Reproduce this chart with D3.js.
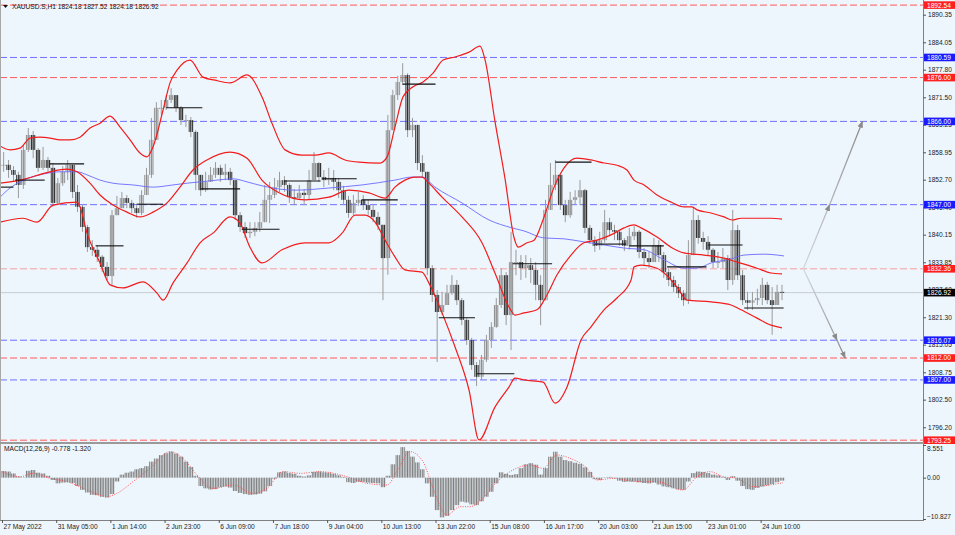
<!DOCTYPE html>
<html>
<head>
<meta charset="utf-8">
<script src="https://cdn.jsdelivr.net/npm/d3@7"></script>
<style>
  html, body { margin: 0; padding: 0; background: #eef6fd; }
  svg { display: block; font-family: "Liberation Sans", Arial, sans-serif; }
</style>
</head>
<body>
<div id="chart"></div>
<script>
const BAR_HOURS = 3;

const highs = [
  1859.0,1857.2,1855.8,1854.5,1860.6,1864.5,1863.8,1859.9,1860.2,1857.9,
  1856.5,1853.1,1855.8,1857.2,1855.4,1851.5,1846.9,1842.4,1838.9,1837.8,
  1835.5,1833.9,1845.8,1849.0,1849.9,1849.2,1848.1,1846.9,1850.3,1855.4,
  1866.8,1870.4,1870.9,1872.0,1873.6,1872.0,1869.5,1867.5,1867.0,1864.0,
  1853.8,1854.5,1855.6,1856.7,1856.1,1856.3,1855.4,1851.5,1845.3,1843.0,
  1843.0,1843.0,1845.3,1851.5,1852.2,1853.1,1854.5,1853.5,1851.9,1850.6,
  1851.5,1850.6,1854.9,1859.0,1856.7,1854.9,1855.4,1854.9,1853.1,1851.3,
  1849.0,1849.2,1849.9,1849.2,1848.1,1846.9,1845.3,1842.4,1867.5,1873.2,
  1876.4,1879.3,1877.0,1866.8,1865.2,1858.3,1854.5,1833.2,1827.5,1827.1,
  1828.7,1830.9,1829.8,1825.7,1821.1,1816.6,1811.1,1812.7,1817.3,1820.2,
  1825.7,1832.5,1831.6,1840.8,1836.7,1835.5,1835.5,1834.8,1833.9,1830.9,
  1848.1,1856.5,1857.2,1853.1,1848.1,1849.9,1850.3,1852.6,1850.6,1842.4,
  1839.8,1840.8,1845.8,1844.0,1842.4,1841.2,1839.4,1841.7,1842.1,1841.2,
  1837.1,1836.2,1839.4,1838.9,1836.2,1832.5,1830.7,1828.9,1827.5,1838.9,
  1846.5,1844.6,1840.8,1839.8,1837.1,1836.2,1837.1,1835.5,1845.8,1842.4,
  1832.1,1827.1,1827.1,1827.8,1830.3,1829.4,1828.2,1828.7,1828.7
];

const lows = [
  1854.5,1853.1,1852.4,1848.5,1850.6,1859.0,1857.6,1854.5,1854.9,1854.5,
  1846.5,1846.9,1851.3,1852.6,1848.5,1845.3,1840.8,1836.2,1835.3,1833.9,
  1831.6,1829.8,1828.7,1844.6,1846.9,1846.2,1845.1,1844.0,1844.6,1849.2,
  1853.1,1861.8,1867.5,1868.6,1870.2,1868.1,1865.2,1864.7,1862.4,1850.3,
  1849.0,1849.9,1852.2,1853.1,1852.2,1852.6,1851.5,1843.5,1840.8,1839.4,
  1839.4,1839.8,1840.8,1845.8,1842.8,1848.5,1849.9,1849.9,1847.4,1846.9,
  1848.1,1846.9,1848.1,1853.8,1852.2,1851.0,1851.5,1850.3,1848.5,1846.9,
  1844.0,1844.6,1846.7,1845.8,1844.6,1843.0,1841.2,1825.2,1831.0,1864.0,
  1870.9,1874.3,1862.4,1862.4,1854.9,1853.1,1830.9,1824.8,1811.1,1821.8,
  1824.1,1826.4,1824.1,1819.5,1815.0,1809.3,1805.6,1807.0,1811.1,1814.3,
  1818.9,1823.4,1819.5,1813.8,1830.9,1829.8,1830.3,1829.1,1825.2,1819.5,
  1825.2,1845.8,1850.3,1845.8,1843.0,1844.0,1846.9,1846.9,1840.5,1838.1,
  1836.2,1836.7,1838.3,1839.8,1838.9,1837.6,1836.4,1836.7,1838.9,1834.8,
  1833.0,1832.5,1833.9,1833.9,1830.3,1828.4,1827.1,1825.7,1823.9,1824.3,
  1835.5,1838.1,1836.7,1835.3,1832.5,1832.5,1832.5,1827.5,1828.7,1829.8,
  1824.1,1823.0,1823.0,1824.1,1824.1,1824.3,1817.3,1824.8,1825.2
];

const closes = [
  1856.1,1854.9,1853.8,1851.5,1859.5,1862.9,1859.5,1855.4,1857.2,1855.4,
  1847.4,1851.9,1854.5,1856.1,1849.9,1846.5,1841.9,1837.3,1836.7,1835.1,
  1832.8,1830.7,1844.6,1846.2,1848.5,1847.4,1846.2,1845.1,1849.2,1853.8,
  1861.8,1869.1,1869.1,1870.9,1872.0,1869.1,1866.3,1866.3,1863.6,1853.8,
  1850.3,1852.2,1853.8,1855.4,1853.8,1854.5,1852.6,1844.6,1841.9,1840.5,
  1840.8,1841.7,1843.0,1848.1,1849.2,1851.0,1852.6,1851.5,1848.7,1848.5,
  1849.7,1849.2,1852.6,1856.5,1853.3,1852.6,1853.1,1852.2,1850.3,1848.1,
  1845.1,1847.4,1848.1,1846.9,1845.8,1844.2,1842.4,1834.8,1864.0,1872.0,
  1875.0,1876.6,1864.0,1865.2,1856.5,1854.5,1832.5,1826.4,1822.5,1824.1,
  1826.8,1828.7,1825.2,1820.7,1816.1,1810.4,1807.7,1811.6,1816.1,1819.1,
  1824.1,1830.9,1821.8,1833.9,1833.9,1832.5,1833.2,1832.1,1828.7,1825.2,
  1845.8,1851.5,1853.8,1846.9,1844.6,1848.1,1848.7,1850.3,1841.7,1838.9,
  1837.6,1838.9,1843.0,1841.2,1840.8,1838.9,1837.6,1839.8,1840.8,1836.2,
  1834.8,1833.9,1837.8,1835.5,1831.6,1829.8,1828.2,1826.8,1825.2,1835.5,
  1843.5,1839.4,1838.5,1836.7,1833.9,1833.9,1834.8,1829.8,1841.2,1830.9,
  1825.2,1824.6,1825.2,1825.7,1828.7,1825.2,1824.1,1827.1,1826.92
];

// Bollinger bands and moving average, [hour index, price]
const bbUpper = [[-1.2,1860.4],[4.9,1859.5],[11.0,1859.9],[17.1,1862.2],[23.1,1862.4],[29.2,1862.2],[35.3,1861.8],[41.4,1861.8],[47.5,1862.4],[53.6,1864.5],[59.7,1865.6],[65.8,1867.2],[71.9,1864.7],[78.0,1861.8],[84.0,1858.8],[88.3,1857.9],[92.0,1860.2],[98.1,1868.6],[102.3,1874.8],[106.6,1877.7],[114.5,1880.0],[122.4,1876.1],[129.7,1875.4],[138.9,1874.8],[149.2,1876.6],[158.3,1871.6],[164.4,1865.6],[172.4,1859.5],[182.7,1858.3],[190.6,1858.3],[199.1,1858.8],[208.9,1857.2],[217.4,1856.7],[230.2,1856.5],[234.5,1857.9],[239.3,1864.7],[244.2,1871.6],[250.3,1873.9],[256.4,1875.0],[262.5,1877.0],[268.6,1880.0],[275.9,1880.7],[284.4,1881.8],[291.1,1883.2],[294.2,1880.0],[300.2,1866.0],[306.3,1853.0],[311.8,1839.5],[314.3,1837.3],[319.7,1838.3],[324.0,1838.9],[330.1,1844.2],[336.2,1851.0],[342.3,1855.4],[350.2,1857.6],[358.7,1857.2],[366.6,1856.5],[374.5,1856.0],[380.6,1854.9],[384.9,1852.6],[391.0,1851.5],[398.9,1849.2],[407.4,1847.6],[415.3,1846.5],[420.2,1846.5],[423.3,1845.8],[431.8,1845.1],[439.7,1844.2],[444.6,1843.5],[450.1,1843.9],[459.8,1843.9],[468.3,1843.9],[475.0,1843.7]];

const bbMiddle = [[-1.2,1851.9],[11.0,1852.6],[29.2,1854.5],[39.6,1855.1],[45.7,1854.5],[53.6,1851.9],[59.7,1849.2],[67.6,1846.9],[76.1,1845.3],[84.0,1844.2],[92.0,1845.3],[100.5,1847.4],[108.4,1851.0],[116.3,1854.9],[124.8,1857.2],[138.9,1859.0],[149.2,1857.6],[158.3,1852.6],[168.7,1849.7],[184.5,1848.1],[199.1,1848.7],[211.3,1850.3],[223.5,1849.7],[233.3,1848.5],[239.3,1851.0],[245.4,1852.6],[251.5,1853.3],[255.8,1853.3],[260.0,1851.9],[268.0,1848.7],[280.1,1844.2],[292.3,1838.3],[300.2,1831.4],[308.8,1823.6],[312.4,1821.8],[317.9,1822.3],[325.8,1823.0],[331.9,1826.4],[338.0,1831.0],[346.5,1835.5],[354.4,1838.3],[362.4,1838.9],[370.9,1840.1],[378.8,1841.7],[384.9,1842.4],[389.2,1841.7],[398.9,1839.6],[407.4,1837.3],[415.3,1836.0],[427.5,1835.5],[439.7,1834.8],[447.6,1833.9],[459.8,1832.5],[468.3,1831.4],[475.0,1831.2]];

const bbLower = [[-1.2,1843.0],[12.8,1843.9],[21.3,1843.0],[31.1,1846.9],[45.7,1847.6],[47.5,1846.5],[51.8,1840.5],[59.7,1833.7],[65.8,1828.7],[73.7,1828.0],[85.9,1829.4],[94.4,1826.8],[98.1,1825.2],[104.1,1829.1],[112.7,1833.7],[120.6,1838.3],[128.5,1840.5],[138.9,1844.2],[144.9,1842.8],[151.0,1837.3],[158.3,1833.7],[170.5,1836.7],[184.5,1838.3],[199.1,1838.3],[207.1,1840.5],[215.0,1844.6],[221.1,1844.6],[227.2,1843.0],[233.3,1838.9],[239.3,1835.1],[245.4,1832.1],[255.8,1831.6],[260.0,1829.1],[268.0,1822.3],[275.9,1814.5],[284.4,1804.7],[290.5,1793.3],[300.2,1800.8],[308.8,1805.4],[312.4,1807.4],[317.9,1807.0],[329.5,1806.5],[336.8,1801.7],[344.1,1805.4],[352.6,1816.1],[358.7,1819.1],[366.6,1823.0],[374.5,1825.7],[383.1,1829.8],[384.9,1832.8],[389.2,1833.2],[398.9,1832.5],[403.2,1831.4],[411.1,1828.2],[417.2,1825.2],[431.8,1824.8],[444.0,1824.1],[450.1,1823.0],[459.8,1821.1],[468.3,1819.5],[475.0,1818.9]];

const maLine = [[-1.2,1848.7],[4.9,1850.8],[11.0,1852.2],[23.1,1853.8],[35.3,1854.5],[45.7,1854.5],[51.8,1853.8],[59.7,1852.6],[67.6,1851.9],[79.8,1851.5],[92.0,1851.0],[104.1,1851.5],[112.7,1851.9],[120.6,1852.2],[130.9,1852.6],[140.7,1852.9],[149.2,1852.2],[158.3,1851.3],[178.4,1850.3],[199.1,1850.8],[219.2,1851.5],[239.3,1852.6],[249.7,1853.3],[255.8,1853.3],[263.7,1851.0],[280.1,1847.4],[296.6,1843.5],[310.6,1841.7],[317.9,1841.0],[330.1,1839.4],[342.3,1839.2],[354.4,1838.5],[366.6,1837.8],[378.8,1837.1],[391.0,1836.7],[403.2,1834.4],[415.3,1832.5],[423.3,1832.5],[431.8,1833.7],[444.0,1834.6],[451.9,1835.5],[464.1,1835.7],[476.2,1835.3]];

// daily open levels
const dayStart = [-1,8,29,57,82,100,121,146,172,195,219,244,266,289,311,337,361,382,405,430,452];
const dayEnd   = [7,26,50,74,98,122,145,169,194,216,241,264,288,312,335,359,380,403,429,451,476];
const dayOpen  = [1851.0,1852.6,1856.3,1837.6,1847.1,1869.1,1850.6,1841.4,1852.4,1852.9,1848.1,1874.5,1821.2,1808.4,1833.5,1856.7,1838.0,1837.6,1832.8,1837.8,1823.4];

// horizontal levels
const redLevels = [1892.54, 1876.00, 1832.36, 1812.00, 1793.25];
const blueLevels = [1880.59, 1866.00, 1847.00, 1816.07, 1807.00];
const activeLevel = 1832.36;
const lastPrice = 1826.92;

// scenario arrows, [hour index, price]
const arrowUp = [[488,1832.36],[504,1847.0],[524,1866.0]];
const arrowDown = [[488,1832.36],[508.5,1816.07],[513.5,1812.0]];

// MACD(12,26,9), main per 3-hour bar, signal as [hour index, value]
const macdMain = [
  1.75,1.6,1.1,0.3,0.1,1.8,2.0,1.3,1.1,0.5,
  -0.6,-1.5,-1.3,-1.2,-1.4,-2.2,-3.2,-3.9,-4.5,-4.6,
  -5.0,-5.2,-4.3,-1.0,0.8,1.3,1.6,2.2,2.5,3.0,
  4.2,5.0,5.9,6.4,6.8,6.3,5.5,4.2,2.8,0.5,
  -2.2,-2.8,-3.1,-3.0,-2.5,-2.3,-2.6,-3.5,-4.0,-4.3,
  -4.5,-4.4,-4.2,-3.6,-2.2,-0.3,1.4,1.6,1.2,1.0,
  0.5,0.3,0.6,1.5,1.6,1.4,1.3,1.0,0.6,0.2,
  -1.2,-1.4,-1.1,-1.1,-1.3,-1.4,-1.5,-2.5,0.5,3.5,
  5.9,8.0,7.0,5.5,4.0,2.2,-1.5,-5.0,-8.5,-10.4,
  -10.0,-8.5,-7.2,-6.3,-6.5,-7.0,-7.2,-6.2,-5.0,-3.7,
  -1.5,1.4,1.0,0.7,0.9,2.5,3.5,3.8,3.4,0.8,
  2.5,5.5,6.8,5.5,4.6,4.3,3.9,3.6,2.7,1.5,
  -0.4,-0.6,0.1,0.2,-0.2,-0.8,-1.1,-1.0,-1.0,-1.2,
  -1.4,-1.5,-1.3,-1.8,-2.3,-2.5,-2.8,-3.1,-3.2,-1.0,
  1.2,1.6,1.5,1.2,0.8,0.6,0.2,-0.6,0.4,-0.8,
  -2.2,-3.0,-3.2,-2.7,-2.3,-2.0,-1.7,-1.2,-0.778
];
const macdSignal = [[-1.2,1.74],[11.0,0.26],[18.9,1.13],[29.2,-0.18],[39.6,-1.05],[51.8,-3.23],[63.9,-4.98],[70.0,-4.11],[79.8,-1.05],[90.1,2.44],[102.3,6.80],[110.2,5.06],[118.8,0.69],[128.5,-2.80],[140.7,-1.92],[152.9,-4.11],[161.4,-2.80],[171.1,1.57],[181.5,1.13],[193.7,1.57],[210.1,0.26],[222.3,-1.49],[234.5,-1.92],[240.6,1.74],[248.5,6.80],[256.4,4.19],[262.5,-2.80],[271.0,-9.78],[278.9,-7.60],[285.0,-7.60],[292.9,-5.42],[301.5,-1.05],[309.4,1.57],[321.6,3.31],[329.5,2.44],[338.0,5.93],[345.9,5.06],[356.3,2.44],[362.4,-0.62],[372.1,-0.18],[386.7,-1.05],[398.9,-1.05],[414.7,-3.23],[423.3,0.26],[431.2,1.57],[439.1,0.26],[447.6,-0.18],[457.4,-2.36],[467.7,-1.92],[475.6,-1.32]];

// axes
const priceTicks = [1890.35,1884.05,1877.80,1871.50,1865.25,1858.95,1852.70,1846.40,1840.15,1833.85,1827.60,1821.30,1815.05,1808.75,1802.50,1796.20];
const macdTicks = [8.551, 0, -10.827];
const timeHours = [0,33,66,99,132,165,198,231,264,297,330,363,396,429,462];
const timeLabels = ["27 May 2022","31 May 05:00","1 Jun 14:00","2 Jun 23:00","6 Jun 09:00","7 Jun 18:00","9 Jun 04:00","10 Jun 13:00","13 Jun 22:00","15 Jun 08:00","16 Jun 17:00","20 Jun 03:00","21 Jun 15:00","23 Jun 01:00","24 Jun 10:00"];

const symbol = "XAUUSD.S,H1";
const lastBar = [1824.18, 1827.52, 1824.18, 1826.92];
const macdTitle = "MACD(12,26,9)";
const macdLast = [-0.778, -1.320];

const width = 955, height = 535;
const axisX = 923;
const mainBottom = 442, macdTop = 444, macdBottom = 520;
const fontSize = 6.6;

const x = d3.scaleLinear().domain([0, 475]).range([2, 782]);
const y = d3.scaleLinear().domain([1796.20, 1890.35]).range([427.26, 14.7]);
const ym = d3.scaleLinear().domain([-10.827, 8.551]).range([519, 445]);
const hourStep = x(1) - x(0);
const barStep = x(BAR_HOURS) - x(0);

const svg = d3.select("#chart").append("svg")
  .attr("width", width)
  .attr("height", height)
  .style("font-size", fontSize + "px");

svg.append("rect").attr("width", width).attr("height", height).attr("fill", "#eef6fd");

const defs = svg.append("defs");
defs.append("clipPath").attr("id", "clip-main")
  .append("rect").attr("x", 0).attr("y", 0).attr("width", axisX).attr("height", mainBottom);
defs.append("clipPath").attr("id", "clip-macd")
  .append("rect").attr("x", 0).attr("y", macdTop).attr("width", axisX).attr("height", macdBottom - macdTop);

// hourly stripes so the 3-hour marks read like the dense H1 ones
function stripes(id, color) {
  const p = defs.append("pattern")
    .attr("id", id)
    .attr("patternUnits", "userSpaceOnUse")
    .attr("x", x(0) - 0.5)
    .attr("width", hourStep).attr("height", 8);
  p.append("rect").attr("width", 1.05).attr("height", 8).attr("fill", color);
}
stripes("st-up", "#8e8e8e");
stripes("st-down", "#2e2e2e");
stripes("st-macd", "#7d7d7d");

const arrowHead = defs.append("marker")
  .attr("id", "head")
  .attr("viewBox", "0 0 10 10")
  .attr("refX", 9).attr("refY", 5)
  .attr("markerWidth", 7).attr("markerHeight", 7)
  .attr("markerUnits", "userSpaceOnUse")
  .attr("orient", "auto");
arrowHead.append("path").attr("d", "M0,1 L10,5 L0,9 Z").attr("fill", "#8a8a8a");

const main = svg.append("g").attr("clip-path", "url(#clip-main)");

// dashed levels
main.selectAll("line.red-level")
  .data(redLevels)
  .enter().append("line")
  .attr("class", "red-level")
  .attr("x1", 0).attr("x2", axisX)
  .attr("y1", d => y(d)).attr("y2", d => y(d))
  .attr("stroke", d => d === activeLevel ? "#f5a3a3" : "#ff5a5a")
  .attr("stroke-width", 1)
  .attr("stroke-dasharray", "7,3");

main.selectAll("line.blue-level")
  .data(blueLevels)
  .enter().append("line")
  .attr("class", "blue-level")
  .attr("x1", 0).attr("x2", axisX)
  .attr("y1", d => y(d)).attr("y2", d => y(d))
  .attr("stroke", "#6f6fff")
  .attr("stroke-width", 1)
  .attr("stroke-dasharray", "7,3");

// bid line
main.append("line")
  .attr("x1", 0).attr("x2", axisX)
  .attr("y1", y(lastPrice)).attr("y2", y(lastPrice))
  .attr("stroke", "#c8ccd2").attr("stroke-width", 1);

// bars (open = previous close)
const bars = closes.map((c, k) => {
  const o = k === 0 ? c : closes[k - 1];
  return { hour: k * BAR_HOURS + 1, o, h: highs[k], l: lows[k], c };
});

const barG = main.append("g");
barG.selectAll("line")
  .data(bars)
  .enter().append("line")
  .attr("x1", d => x(d.hour)).attr("x2", d => x(d.hour))
  .attr("y1", d => y(Math.max(d.h, d.o, d.c)))
  .attr("y2", d => y(Math.min(d.l, d.o, d.c)))
  .attr("stroke", "#9a9a9a")
  .attr("stroke-width", 1);

barG.selectAll("rect")
  .data(bars)
  .enter().append("rect")
  .attr("x", d => x(d.hour) - barStep / 2)
  .attr("width", barStep)
  .attr("y", d => y(Math.max(d.o, d.c)))
  .attr("height", d => Math.max(1, Math.abs(y(d.o) - y(d.c))))
  .attr("fill", d => d.c >= d.o ? "url(#st-up)" : "url(#st-down)");

// indicators
const curve = d3.line()
  .x(d => x(d[0]))
  .y(d => y(d[1]))
  .curve(d3.curveMonotoneX);

main.append("path").datum(maLine)
  .attr("d", curve).attr("fill", "none")
  .attr("stroke", "#6a6aff").attr("stroke-width", 0.9);

[bbUpper, bbMiddle, bbLower].forEach(band => {
  main.append("path").datum(band)
    .attr("d", curve).attr("fill", "none")
    .attr("stroke", "#f21c1c").attr("stroke-width", 1.2);
});

// daily open segments
main.selectAll("line.day-open")
  .data(dayOpen)
  .enter().append("line")
  .attr("class", "day-open")
  .attr("x1", (d, i) => x(dayStart[i]))
  .attr("x2", (d, i) => x(dayEnd[i]))
  .attr("y1", d => y(d)).attr("y2", d => y(d))
  .attr("stroke", "#111").attr("stroke-width", 1.1);

// scenario arrows, fading in from the pivot
[arrowUp, arrowDown].forEach((pts, i) => {
  const a = pts[0], b = pts[pts.length - 1];
  const g = defs.append("linearGradient")
    .attr("id", "fade" + i)
    .attr("gradientUnits", "userSpaceOnUse")
    .attr("x1", x(a[0])).attr("y1", y(a[1]))
    .attr("x2", x(b[0])).attr("y2", y(b[1]));
  g.append("stop").attr("offset", 0).attr("stop-color", "#d4d8de");
  g.append("stop").attr("offset", 1).attr("stop-color", "#8a8a8a");
  main.append("path").datum(pts)
    .attr("d", d3.line().x(d => x(d[0])).y(d => y(d[1])))
    .attr("fill", "none")
    .attr("stroke", `url(#fade${i})`).attr("stroke-width", 1.3)
    .attr("marker-mid", "url(#head)")
    .attr("marker-end", "url(#head)");
});

// header
svg.append("path")
  .attr("d", "M3,5 L8,5 L5.5,8 Z")
  .attr("fill", "#111");
svg.append("text")
  .attr("x", 12).attr("y", 9.2)
  .attr("fill", "#111")
  .text(symbol + "  " + lastBar.map(d => d.toFixed(2)).join(" "));

// MACD panel
const macdG = svg.append("g").attr("clip-path", "url(#clip-macd)");
macdG.selectAll("rect")
  .data(macdMain)
  .enter().append("rect")
  .attr("x", (d, k) => x(k * BAR_HOURS + 1) - barStep / 2)
  .attr("width", barStep)
  .attr("y", d => ym(Math.max(0, d)))
  .attr("height", d => Math.abs(ym(d) - ym(0)))
  .attr("fill", "url(#st-macd)");

macdG.append("path").datum(macdSignal)
  .attr("d", d3.line().x(d => x(d[0])).y(d => ym(d[1])).curve(d3.curveMonotoneX))
  .attr("fill", "none")
  .attr("stroke", "#ff4a4a").attr("stroke-width", 0.9)
  .attr("stroke-dasharray", "1,1.4");

svg.append("text")
  .attr("x", 4).attr("y", 451)
  .attr("fill", "#111")
  .text(macdTitle + " " + macdLast.map(d => d.toFixed(3)).join(" "));

// frames
svg.append("line").attr("x1", 0.5).attr("x2", 0.5).attr("y1", 0).attr("y2", macdBottom)
  .attr("stroke", "#a8a8a8");
svg.append("line").attr("x1", axisX + 0.5).attr("x2", axisX + 0.5).attr("y1", 0).attr("y2", macdBottom)
  .attr("stroke", "#808080");
svg.append("rect").attr("x", 0).attr("y", mainBottom).attr("width", axisX + 1).attr("height", 2)
  .attr("fill", "#9a9a9a");
svg.append("line").attr("x1", 0).attr("x2", axisX + 1).attr("y1", macdBottom + 0.5).attr("y2", macdBottom + 0.5)
  .attr("stroke", "#808080");

// price axis
const priceAxis = svg.append("g")
  .attr("transform", `translate(${axisX},0)`)
  .call(d3.axisRight(y).tickValues(priceTicks).tickFormat(d3.format(".2f")).tickSize(3).tickPadding(2));
priceAxis.select(".domain").remove();
priceAxis.selectAll("text").attr("fill", "#222").style("font-size", fontSize + "px")
  .style("font-family", "Liberation Sans, Arial, sans-serif");
priceAxis.selectAll("line").attr("stroke", "#555");

// level labels
const levelLabels = redLevels.map(p => ({ p, bg: "#ff1f1f" }))
  .concat(blueLevels.map(p => ({ p, bg: "#1a1aff" })))
  .concat([{ p: lastPrice, bg: "#000" }]);
const tag = svg.append("g").selectAll("g")
  .data(levelLabels)
  .enter().append("g")
  .attr("transform", d => `translate(${axisX + 1},${y(d.p)})`);
tag.append("rect")
  .attr("x", 0).attr("y", -3.8).attr("width", 31).attr("height", 7.6)
  .attr("fill", d => d.bg);
tag.append("text")
  .attr("x", 3).attr("y", 2.4)
  .attr("fill", "#fff")
  .text(d => d.p.toFixed(2));

// macd axis
const macdAxis = svg.append("g")
  .attr("transform", `translate(${axisX},0)`)
  .call(d3.axisRight(ym).tickValues(macdTicks)
    .tickFormat(d => d === 0 ? "0.00" : d3.format(".3f")(d)).tickSize(3).tickPadding(1));
macdAxis.select(".domain").remove();
macdAxis.selectAll("line").attr("stroke", "#555");
macdAxis.selectAll("text").attr("fill", "#222").style("font-size", fontSize + "px")
  .style("font-family", "Liberation Sans, Arial, sans-serif")
  .attr("dy", d => d === macdTicks[0] ? "0.9em" : d === macdTicks[2] ? "-0.1em" : "0.32em");

// time axis
const timeAxis = svg.append("g")
  .attr("transform", `translate(0,${macdBottom})`)
  .call(d3.axisBottom(x).tickValues(timeHours)
    .tickFormat((d, i) => timeLabels[i]).tickSize(3).tickPadding(1));
timeAxis.select(".domain").remove();
timeAxis.selectAll("line").attr("stroke", "#555");
timeAxis.selectAll("text")
  .attr("fill", "#222")
  .attr("text-anchor", "start")
  .attr("dx", 1)
  .style("font-size", fontSize + "px")
  .style("font-family", "Liberation Sans, Arial, sans-serif");
</script>
</body>
</html>
